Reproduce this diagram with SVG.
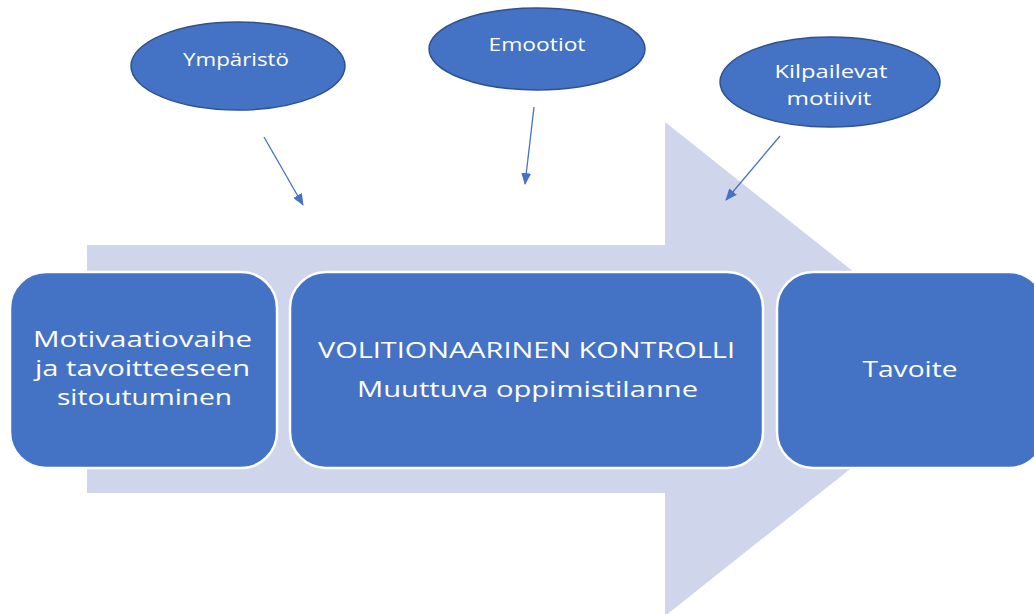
<svg xmlns="http://www.w3.org/2000/svg" width="1034" height="614" viewBox="0 0 1034 614">
<defs>
<style>
.box{fill:#4472C4;stroke:#FFFFFF;stroke-width:2.5}
.ell{fill:#4472C4;stroke:#2F528F;stroke-width:1.5}
.big{font-family:"Open Sans","Noto Sans",sans-serif;font-size:22.5px;fill:#FFFFFF;text-anchor:middle}
.small{font-family:"Open Sans","Noto Sans",sans-serif;font-size:18px;fill:#FFFFFF;text-anchor:middle}
.conn{stroke:#4472C4;stroke-width:1.3;fill:none}
</style>
<marker id="ah" viewBox="0 0 12 10" refX="11" refY="5" markerWidth="12" markerHeight="10" markerUnits="userSpaceOnUse" orient="auto">
<path d="M0,0 L12,5 L0,10 Z" fill="#4472C4"/>
</marker>
</defs>
<rect width="1034" height="614" fill="#FFFFFF"/>
<polygon id="bigarrow" points="87,245 665,245 665,122 976,369 665,616 665,493 87,493" fill="#CFD5EA"/>
<g id="node-motivaatio">
<rect class="box" x="10" y="272" width="267" height="196" rx="36" ry="36"/>
<text class="big" x="142.5" y="347" textLength="219" lengthAdjust="spacingAndGlyphs">Motivaatiovaihe</text>
<text class="big" x="142.5" y="376" textLength="215" lengthAdjust="spacingAndGlyphs">ja tavoitteeseen</text>
<text class="big" x="144.5" y="405" textLength="175" lengthAdjust="spacingAndGlyphs">sitoutuminen</text>
</g>
<g id="node-volitio">
<rect class="box" x="290" y="272" width="473" height="196" rx="36" ry="36"/>
<text class="big" x="526.5" y="358" textLength="417" lengthAdjust="spacingAndGlyphs">VOLITIONAARINEN KONTROLLI</text>
<text class="big" x="527.5" y="397" textLength="341" lengthAdjust="spacingAndGlyphs">Muuttuva oppimistilanne</text>
</g>
<g id="node-tavoite">
<rect class="box" x="777" y="272" width="268" height="196" rx="36" ry="36"/>
<text class="big" x="910" y="377" textLength="95" lengthAdjust="spacingAndGlyphs">Tavoite</text>
</g>
<g id="node-ymparisto">
<ellipse class="ell" cx="238" cy="66" rx="107" ry="44"/>
<text class="small" x="236" y="66" textLength="106" lengthAdjust="spacingAndGlyphs">Ympäristö</text>
</g>
<g id="node-emootiot">
<ellipse class="ell" cx="537" cy="49" rx="108" ry="41"/>
<text class="small" x="537" y="51" textLength="97" lengthAdjust="spacingAndGlyphs">Emootiot</text>
</g>
<g id="node-kilpailevat">
<ellipse class="ell" cx="830" cy="82" rx="110" ry="45"/>
<text class="small" x="831" y="78" textLength="113" lengthAdjust="spacingAndGlyphs">Kilpailevat</text>
<text class="small" x="829" y="105" textLength="85" lengthAdjust="spacingAndGlyphs">motiivit</text>
</g>
<g id="connectors">
<line class="conn" x1="264" y1="137" x2="303" y2="205" marker-end="url(#ah)"/>
<line class="conn" x1="534" y1="107" x2="525" y2="184" marker-end="url(#ah)"/>
<line class="conn" x1="780" y1="136" x2="726" y2="200" marker-end="url(#ah)"/>
</g>
</svg>
